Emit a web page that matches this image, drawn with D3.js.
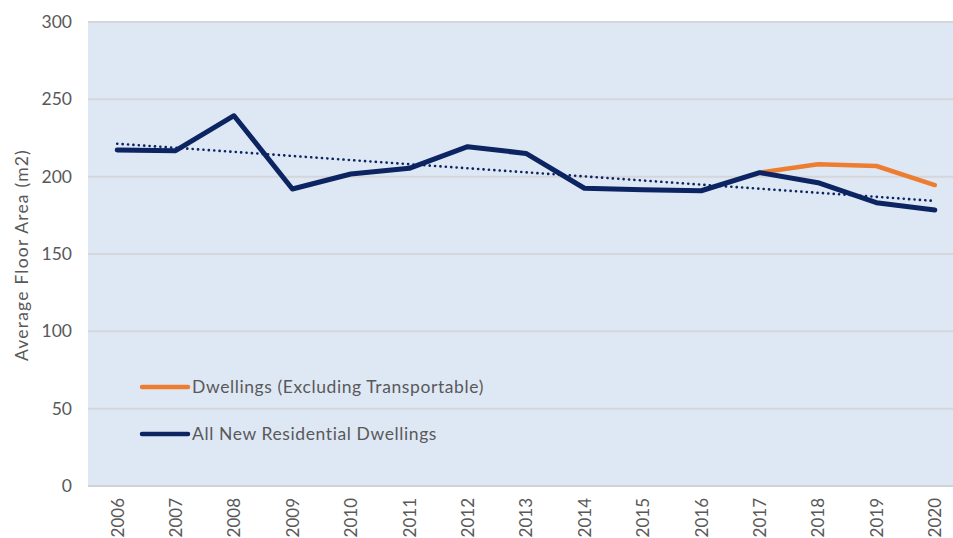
<!DOCTYPE html>
<html>
<head>
<meta charset="utf-8">
<script src="https://cdn.jsdelivr.net/npm/d3@7"></script>
<style>
  body { margin: 0; background: #fff; }
  svg { display: block; font-family: Lato, "Open Sans", sans-serif; }
</style>
</head>
<body>
<div id="chart"></div>
<script>
// values
const years = ['2006', '2007', '2008', '2009', '2010', '2011', '2012', '2013',
  '2014', '2015', '2016', '2017', '2018', '2019', '2020'];
const allDwellings = [217.2, 216.8, 239.4, 192, 201.7, 205.4, 219.4, 215,
  192.5, 191.5, 190.9, 202.6, 196.1, 183.2, 178.5];
const exclTransportableYears = ['2017', '2018', '2019', '2020'];
const exclTransportable = [202.6, 208, 206.9, 194.6];
const trendYears = ['2006', '2020'];
const trendValues = [221.3, 184.3];
const yTicks = [0, 50, 100, 150, 200, 250, 300];

const svgWidth = 953;
const svgHeight = 538;

const margin = { top: 22, right: -11, bottom: 52, left: 88 };
const width = svgWidth - margin.left - margin.right;
const height = svgHeight - margin.top - margin.bottom;

const svg = d3.select('#chart')
  .append('svg')
  .attr('width', svgWidth)
  .attr('height', svgHeight);

const chartGroup = svg.append('g')
  .attr('transform', `translate(${margin.left}, ${margin.top})`);

const xScale = d3.scalePoint()
  .domain(years)
  .range([0, width])
  .padding(0.5);

const yScale = d3.scaleLinear()
  .domain([0, 300])
  .range([height, 0]);

// plot background
chartGroup.append('rect')
  .attr('x', 0)
  .attr('y', 0)
  .attr('width', width)
  .attr('height', height)
  .attr('fill', '#dee8f5');

// gridlines
chartGroup.selectAll('.grid')
  .data(yTicks)
  .enter()
  .append('line')
  .attr('x1', 0)
  .attr('x2', width)
  .attr('y1', d => yScale(d))
  .attr('y2', d => yScale(d))
  .attr('stroke', d => d === 0 ? '#cfd2d8' : '#d6d6da')
  .attr('stroke-width', 2);

// y axis labels
const yAxis = chartGroup.append('g')
  .call(d3.axisLeft(yScale).tickValues(yTicks).tickSize(0).tickPadding(16));
yAxis.select('.domain').remove();
yAxis.selectAll('text')
  .attr('fill', '#595959')
  .style('font-size', '17.5px')
  .style('font-family', 'Lato, sans-serif');

// x axis labels, rotated
const xAxis = chartGroup.append('g')
  .attr('transform', `translate(0, ${height})`)
  .call(d3.axisBottom(xScale).tickSize(0).tickPadding(0));
xAxis.select('.domain').remove();
xAxis.selectAll('text')
  .attr('fill', '#595959')
  .style('font-size', '17px')
  .style('font-family', 'Lato, sans-serif')
  .attr('text-anchor', 'end')
  .attr('dy', '0.35em')
  .attr('transform', 'translate(0, 12) rotate(-90)');

// y axis title
chartGroup.append('text')
  .attr('transform', `translate(${-margin.left + 28}, ${height / 2 + 1}) rotate(-90)`)
  .attr('text-anchor', 'middle')
  .attr('fill', '#595959')
  .style('font-size', '17.5px')
  .style('letter-spacing', '1.2px')
  .text('Average Floor Area (m2)');

const line = d3.line()
  .x(d => xScale(d[0]))
  .y(d => yScale(d[1]));

// orange series
chartGroup.append('path')
  .datum(d3.zip(exclTransportableYears, exclTransportable))
  .attr('d', line)
  .attr('fill', 'none')
  .attr('stroke', '#ed7d31')
  .attr('stroke-width', 4.5)
  .attr('stroke-linejoin', 'round')
  .attr('stroke-linecap', 'round');

// navy series
chartGroup.append('path')
  .datum(d3.zip(years, allDwellings))
  .attr('d', line)
  .attr('fill', 'none')
  .attr('stroke', '#0c2461')
  .attr('stroke-width', 5)
  .attr('stroke-linejoin', 'round')
  .attr('stroke-linecap', 'round');

// linear trend
chartGroup.append('path')
  .datum(d3.zip(trendYears, trendValues))
  .attr('d', line)
  .attr('fill', 'none')
  .attr('stroke', '#0c2461')
  .attr('stroke-width', 2.6)
  .attr('stroke-dasharray', '0.1,5.3')
  .attr('stroke-linecap', 'round');

// legend
const legend = [
  { label: 'Dwellings (Excluding Transportable)', color: '#ed7d31', y: 387 },
  { label: 'All New Residential Dwellings', color: '#0c2461', y: 434 }
];

const legendGroup = svg.selectAll('.legend')
  .data(legend)
  .enter()
  .append('g')
  .attr('transform', d => `translate(142, ${d.y})`);

legendGroup.append('line')
  .attr('x1', 0)
  .attr('x2', 46)
  .attr('stroke', d => d.color)
  .attr('stroke-width', 4.5)
  .attr('stroke-linecap', 'round');

legendGroup.append('text')
  .attr('x', 50)
  .attr('dy', '0.35em')
  .attr('fill', '#595959')
  .style('font-size', '17.5px')
  .style('letter-spacing', '0.6px')
  .text(d => d.label);
</script>
</body>
</html>
